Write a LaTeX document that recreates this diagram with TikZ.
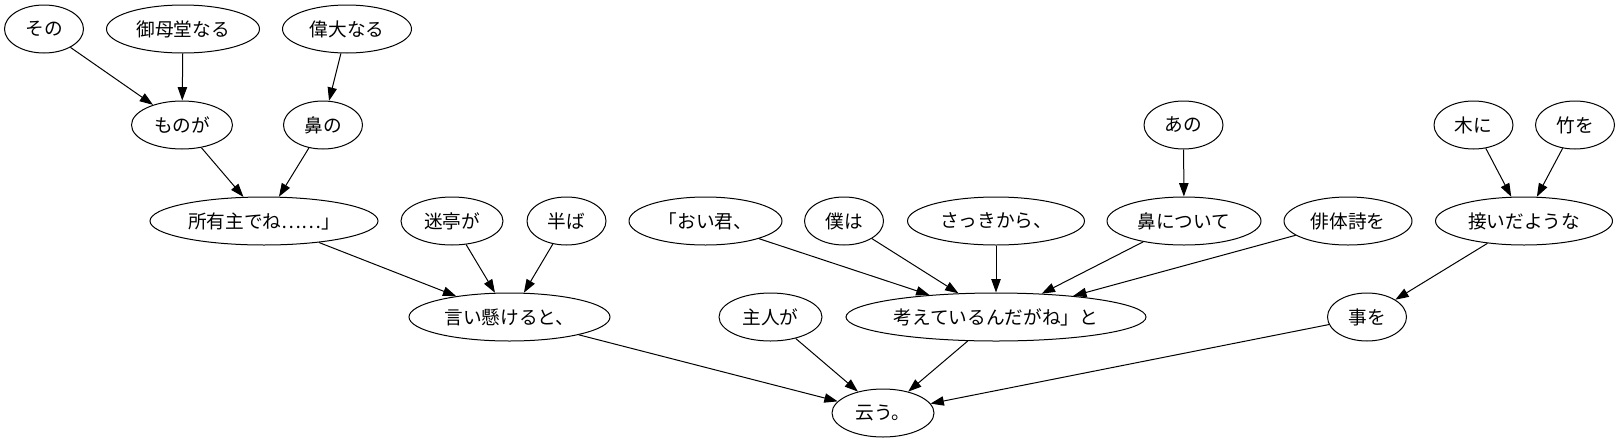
\documentclass[tikz,border=0pt]{standalone}
\usepackage{fontspec}
\newfontfamily\jpfont{Noto Sans CJK JP}
\usetikzlibrary{shapes.geometric,arrows.meta}
\tikzset{
  wn/.style={draw=black, ellipse, line width=0.75pt, inner sep=0pt,
    minimum height=36pt, minimum width=#1*0.75pt,
    font=\jpfont\fontsize{14pt}{16pt}\selectfont},
  dep/.style={draw=black, line width=0.75pt, -{Triangle[length=10pt,width=7pt]}}
}
\begin{document}
\begin{tikzpicture}[x=0.75pt,y=-0.75pt]
\useasboundingbox (0,0) rectangle (1619,443);
% row 1
\node[wn=79]  (sono)   at (44,29)    {その};
\node[wn=153] (gobo)   at (183,29)   {御母堂なる};
\node[wn=129] (idai)   at (347,29)   {偉大なる};
% row 2
\node[wn=101] (monoga) at (182,125)  {ものが};
\node[wn=79]  (hanano) at (323,125)  {鼻の};
\node[wn=79]  (ano)    at (1183.5,125) {あの};
\node[wn=79]  (kini)   at (1473.5,125) {木に};
\node[wn=79]  (takewo) at (1575,125) {竹を};
% row 3
\node[wn=228] (shoyu)  at (264,221)  {所有主でね……」};
\node[wn=102] (meitei) at (452,221)  {迷亭が};
\node[wn=79]  (nakaba) at (566.5,221) {半ば};
\node[wn=153] (oi)     at (705.5,221) {「おい君、};
\node[wn=79]  (bokuwa) at (844,221)  {僕は};
\node[wn=177] (sakki)  at (996,221)  {さっきから、};
\node[wn=154] (hana)   at (1184,221) {鼻について};
\node[wn=128] (haitai) at (1348,221) {俳体詩を};
\node[wn=177] (tsuida) at (1524,221) {接いだような};
% row 4
\node[wn=201] (iikake) at (509.5,317) {言い懸けると、};
\node[wn=103] (shujin) at (770.5,317) {主人が};
\node[wn=300] (kangae) at (996,317)  {考えているんだがね」と};
\node[wn=79]  (kotowo) at (1367,317) {事を};
% row 5
\node[wn=102] (iu)     at (883,413)  {云う。};
% edges
\draw[dep] (sono) -- (monoga);
\draw[dep] (gobo) -- (monoga);
\draw[dep] (idai) -- (hanano);
\draw[dep] (monoga) -- (shoyu);
\draw[dep] (hanano) -- (shoyu);
\draw[dep] (shoyu) -- (iikake);
\draw[dep] (meitei) -- (iikake);
\draw[dep] (nakaba) -- (iikake);
\draw[dep] (iikake) -- (iu);
\draw[dep] (shujin) -- (iu);
\draw[dep] (oi) -- (kangae);
\draw[dep] (bokuwa) -- (kangae);
\draw[dep] (sakki) -- (kangae);
\draw[dep] (ano) -- (hana);
\draw[dep] (hana) -- (kangae);
\draw[dep] (haitai) -- (kangae);
\draw[dep] (kangae) -- (iu);
\draw[dep] (kini) -- (tsuida);
\draw[dep] (takewo) -- (tsuida);
\draw[dep] (tsuida) -- (kotowo);
\draw[dep] (kotowo) -- (iu);
\end{tikzpicture}
\end{document}
